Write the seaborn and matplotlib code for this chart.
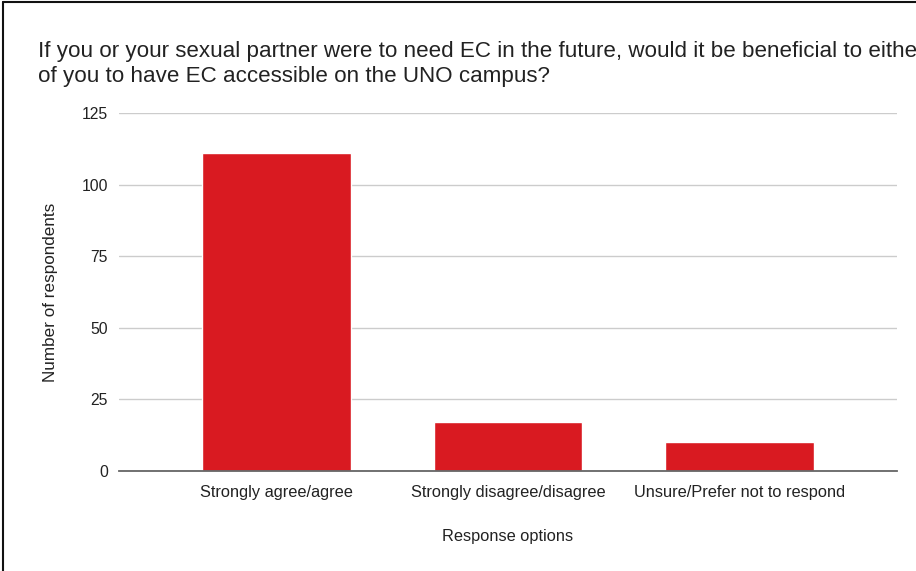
import matplotlib
matplotlib.use("Agg")
import matplotlib.pyplot as plt
from matplotlib.lines import Line2D
import seaborn as sns
import pandas as pd

categories = ["Strongly agree/agree", "Strongly disagree/disagree", "Unsure/Prefer not to respond"]
respondents = [111, 17, 10]
y_ticks = [0, 25, 50, 75, 100, 125]

title = ("If you or your sexual partner were to need EC in the future, would it be beneficial to either\n"
         "of you to have EC accessible on the UNO campus?")

sns.set_theme(style="white")
plt.rcParams["font.family"] = ["Liberation Sans", "DejaVu Sans"]

df = pd.DataFrame({"option": categories, "count": respondents})

fig = plt.figure(figsize=(9.16, 5.71), dpi=100)
ax = fig.add_axes([0.13, 0.1751, 0.849, 0.627])

sns.barplot(data=df, x="option", y="count", color="#d91a21", saturation=1,
            width=0.642, ax=ax, zorder=3)

ax.set_ylim(0, 125)
ax.set_xlim(-0.679, 2.679)
ax.set_yticks(y_ticks)
ax.yaxis.grid(True, color="#cccccc", linewidth=1.0, zorder=0)
ax.xaxis.grid(False)
for side in ["top", "right", "left"]:
    ax.spines[side].set_visible(False)
ax.spines["bottom"].set_color("#666666")
ax.spines["bottom"].set_linewidth(1.3)
ax.spines["bottom"].set_zorder(4)
ax.tick_params(axis="both", length=0, colors="#222222")
ax.tick_params(axis="y", pad=8, labelsize=11.3)
ax.tick_params(axis="x", pad=10, labelsize=11.8)

ax.set_xlabel("Response options", fontsize=11.8, color="#222222", labelpad=21)
ax.set_ylabel("Number of respondents", fontsize=12.3, color="#222222", labelpad=17)

fig.text(0.0415, 0.929, title, fontsize=16.1, color="#222222", ha="left", va="top",
         linespacing=1.27)

# outer frame along the left and top edges
fig.add_artist(Line2D([0.0038, 0.0038], [0, 0.997], transform=fig.transFigure,
                      color="#111111", linewidth=1.5))
fig.add_artist(Line2D([0.0038, 1.0], [0.997, 0.997], transform=fig.transFigure,
                      color="#111111", linewidth=1.5))

fig.savefig("out.png", dpi=100)
